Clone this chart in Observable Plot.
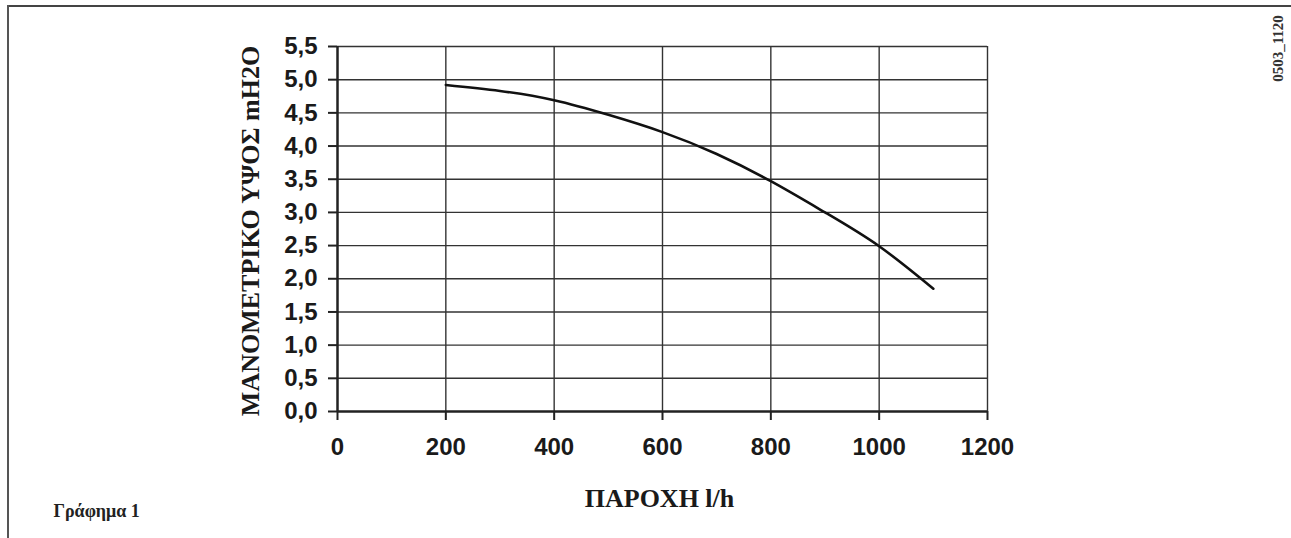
<!DOCTYPE html>
<html>
<head>
<meta charset="utf-8">
<script src="https://cdn.jsdelivr.net/npm/d3@7"></script>
<script src="https://cdn.jsdelivr.net/npm/@observablehq/plot@0.6"></script>
<style>
  html, body { margin: 0; padding: 0; background: #fff; }
  #wrap { position: relative; width: 1291px; height: 538px; overflow: hidden; }
  #wrap svg { position: absolute; left: 0; top: 0; }
  .bt { position: absolute; left: 7px; top: 5px; width: 1284px; height: 2px; background: #444; }
  .bl { position: absolute; left: 7px; top: 5px; width: 2px; height: 533px; background: #555; }
</style>
</head>
<body>
<div id="wrap"><div class="bt"></div><div class="bl"></div></div>
<script>
// Pump curve: flow (l/h) vs manometric head (mH2O)
const flow = [200, 300, 400, 500, 600, 700, 800, 900, 1000, 1100];
const head = [4.92, 4.83, 4.69, 4.47, 4.21, 3.88, 3.47, 3.00, 2.49, 1.85];
const xTicks = [0, 200, 400, 600, 800, 1000, 1200];
const yTicks = [0, 0.5, 1, 1.5, 2, 2.5, 3, 3.5, 4, 4.5, 5, 5.5];
const xLabel = "ΠΑΡΟΧΗ l/h";
const yLabel = "ΜΑΝΟΜΕΤΡΙΚΟ ΥΨΟΣ mH2O";
const caption = "Γράφημα 1";
const code = "0503_1120";

const data = flow.map((f, i) => ({flow: f, head: head[i]}));
const serif = "'Liberation Serif', 'DejaVu Serif', serif";
const sans = "'Liberation Sans', Arial, sans-serif";

const chart = Plot.plot({
  width: 1291,
  height: 538,
  marginLeft: 337,
  marginRight: 304,
  marginTop: 46,
  marginBottom: 127,
  style: {background: "transparent", overflow: "visible"},
  x: {domain: [0, 1200]},
  y: {domain: [0, 5.5]},
  marks: [
    Plot.gridX(xTicks.filter(d => d > 0), {stroke: "#333", strokeOpacity: 1, strokeWidth: 1.4}),
    Plot.gridY(yTicks.filter(d => d > 0), {stroke: "#333", strokeOpacity: 1, strokeWidth: 1.4}),
    Plot.axisX(xTicks, {
      tickSize: 9, tickPadding: 17, stroke: "#222", strokeWidth: 2,
      tickFormat: d => String(d),
      fontSize: 24, fontWeight: "bold", fontFamily: sans, fill: "#1a1a1a",
      label: null
    }),
    Plot.axisY(yTicks, {
      tickSize: 9, tickPadding: 11, stroke: "#222", strokeWidth: 2,
      tickFormat: d => d.toFixed(1).replace(".", ","),
      fontSize: 24, fontWeight: "bold", fontFamily: sans, fill: "#1a1a1a",
      label: null
    }),
    Plot.ruleY([0], {stroke: "#222", strokeWidth: 2.5}),
    Plot.ruleX([0], {stroke: "#222", strokeWidth: 2.5}),
    Plot.line(data, {x: "flow", y: "head", curve: "natural", stroke: "#111", strokeWidth: 2.6}),
    Plot.text([yLabel], {
      frameAnchor: "left", dx: -87, dy: 2, rotate: -90, text: d => d,
      fontSize: 26, fontWeight: "bold", fontFamily: serif, fill: "#1a1a1a",
      textAnchor: "middle", lineAnchor: "middle"
    }),
    Plot.text([xLabel], {
      frameAnchor: "bottom", dy: 87, dx: -3, text: d => d,
      fontSize: 26, fontWeight: "bold", fontFamily: serif, fill: "#1a1a1a",
      textAnchor: "middle", lineAnchor: "middle"
    }),
    Plot.text([caption], {
      frameAnchor: "bottom-left", dx: -284, dy: 100, text: d => d,
      fontSize: 18, fontWeight: "bold", fontFamily: serif, fill: "#222",
      textAnchor: "start", lineAnchor: "middle"
    }),
    Plot.text([code], {
      frameAnchor: "top-right", dx: 291, dy: 2, rotate: -90, text: d => d,
      fontSize: 15, fontWeight: "bold", fontFamily: serif, fill: "#333",
      textAnchor: "middle", lineAnchor: "middle"
    })
  ]
});
document.getElementById("wrap").appendChild(chart);
</script>
</body>
</html>
